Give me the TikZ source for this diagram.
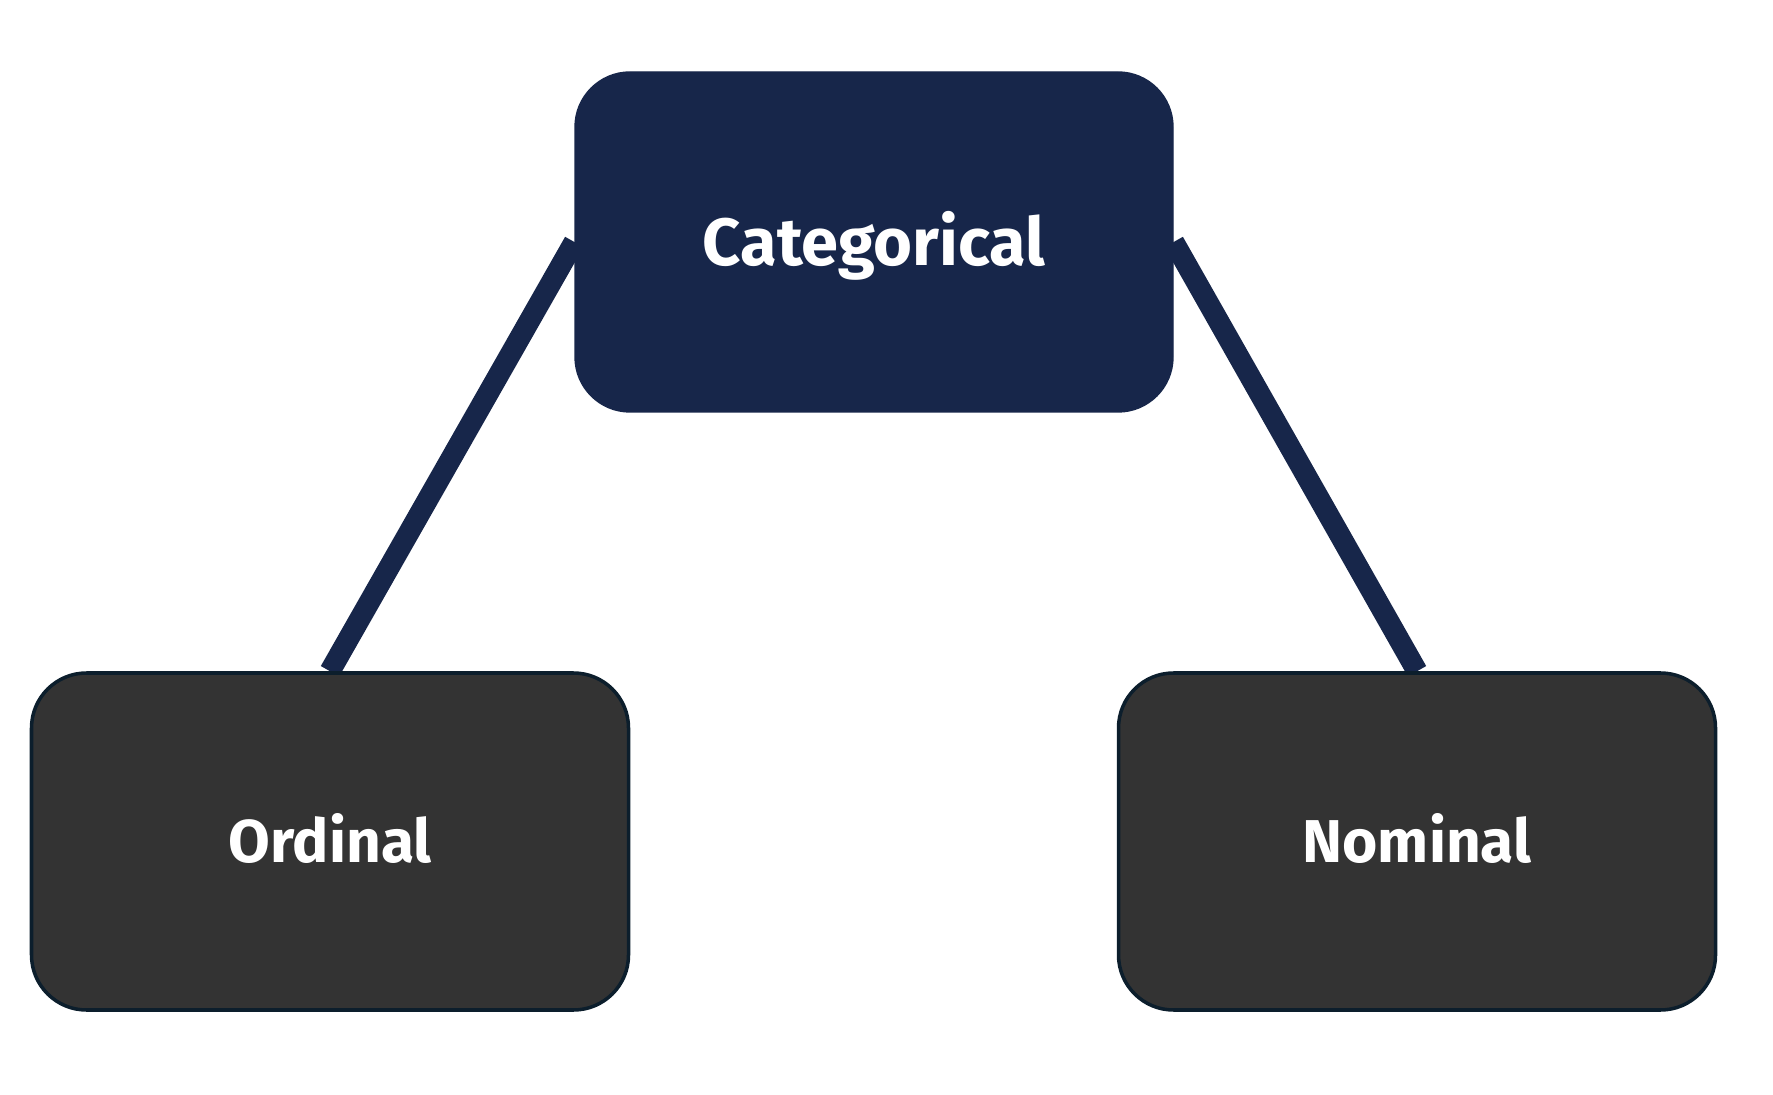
\documentclass[tikz,border=0pt]{standalone}
\usepackage{fontspec}
\setmainfont{Fira Sans}
\usetikzlibrary{backgrounds}
\definecolor{navy}{RGB}{23,38,74}
\definecolor{darkgrey}{RGB}{51,51,51}
\definecolor{edgeblue}{RGB}{12,30,44}
\begin{document}
\begin{tikzpicture}[
	topbox/.style={draw=navy, fill=navy, rectangle, rounded corners=0.55cm, minimum width=5.98cm, minimum height=3.4cm, text=white, text height=13.1pt, text depth=0pt, font=\fontsize{19}{22}\selectfont\bfseries},
	leafbox/.style={draw=edgeblue, line width=1pt, fill=darkgrey, rectangle, rounded corners=0.55cm, minimum width=5.97cm, minimum height=3.37cm, text=white, text height=11.8pt, text depth=0pt, font=\fontsize{17.2}{20}\selectfont\bfseries},
	link/.style={navy, line width=6pt}
]
				\useasboundingbox (0,0) rectangle (17.73,10.94);
				\node[topbox] (Cat)at(8.74, 8.52) {Categorical};
				\node[leafbox] (Ord)at(3.30, 2.525) {Ordinal};
				\node[leafbox] (Nom)at(14.17, 2.525) {Nominal};
				\begin{pgfonlayer}{background}
				\draw[link] (Cat.west) -- (Ord.north);
				\draw[link] (Cat.east) -- (Nom.north);
				\end{pgfonlayer}
			\end{tikzpicture}
\end{document}
